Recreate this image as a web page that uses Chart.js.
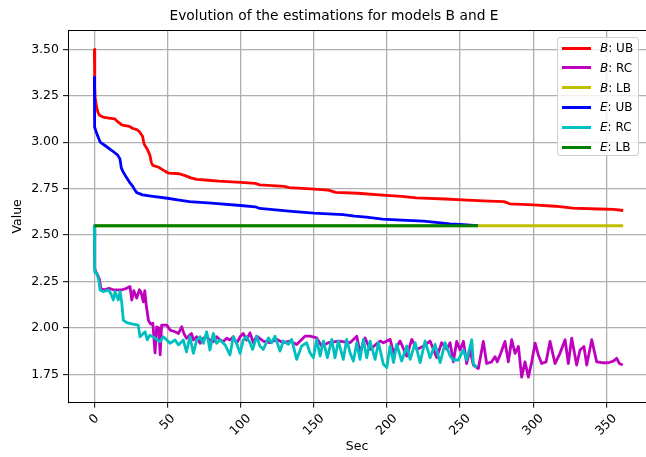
<!DOCTYPE html>
<html>
<head>
<meta charset="utf-8">
<script src="https://cdn.jsdelivr.net/npm/chart.js@4/dist/chart.umd.min.js"></script>
<style>
  body { margin: 0; background: #fff; }
  #wrap { position: relative; width: 646px; height: 457px; }
  #legend {
    position: absolute; left: 557px; top: 37px; width: 82px; height: 119px;
    box-sizing: border-box; border: 1px solid #d0d0d0; border-radius: 3px;
    background: rgba(255, 255, 255, 0.8);
    font-family: "DejaVu Sans", sans-serif; font-size: 12px; color: #000;
  }
  .row { position: absolute; left: 0; height: 14px; line-height: 14px; white-space: nowrap; }
  .swatch { position: absolute; left: 4px; top: 5.5px; width: 29px; height: 3px; }
  .txt { position: absolute; left: 42px; top: 0; }
</style>
</head>
<body>
<div id="wrap">
  <canvas id="chart" width="646" height="457"></canvas>
  <div id="legend"></div>
</div>
<script>
// series names
const models = ['B', 'B', 'B', 'E', 'E', 'E'];
const kinds = ['UB', 'RC', 'LB', 'UB', 'RC', 'LB'];
const colors = ['#ff0000', '#bf00bf', '#bfbf00', '#0000ff', '#00bfbf', '#008000'];
const titleText = 'Evolution of the estimations for models B and E';

const xTicks = [0, 50, 100, 150, 200, 250, 300, 350];
const yTicks = [1.75, 2.00, 2.25, 2.50, 2.75, 3.00, 3.25, 3.50];

// B: UB
const bUbSec = [0, 0.3, 0.6, 1.5, 2.5, 3.5, 6, 10, 14, 16, 18.5, 20, 24, 26, 29, 31, 33, 34, 36, 38, 39, 40, 44, 46, 49, 51, 58, 62, 66, 70, 78, 85, 100, 110, 113, 130, 133, 148, 160, 165, 180, 197, 210, 220, 240, 255, 270, 280, 284, 300, 315, 327, 345, 355, 361.5];
const bUbVal = [3.50, 3.30, 3.24, 3.19, 3.16, 3.145, 3.135, 3.13, 3.125, 3.11, 3.095, 3.09, 3.085, 3.075, 3.068, 3.055, 3.03, 2.99, 2.965, 2.93, 2.89, 2.875, 2.865, 2.855, 2.84, 2.833, 2.83, 2.82, 2.808, 2.80, 2.795, 2.79, 2.783, 2.778, 2.77, 2.762, 2.755, 2.748, 2.742, 2.73, 2.725, 2.715, 2.708, 2.70, 2.694, 2.688, 2.683, 2.68, 2.668, 2.662, 2.655, 2.645, 2.64, 2.638, 2.632];

// B: RC
const bRcSec = [0, 0.3, 1, 2, 3.5, 4.5, 7, 10, 13, 16, 19, 22, 24.4, 25.6, 27, 29, 30.8, 32, 33.5, 34.5, 35.5, 37, 38.5, 40, 41.5, 42.6, 44, 45, 46, 49.5, 51.8, 55.2, 57.5, 59.7, 61.2, 63, 66.4, 67.7, 70, 72.3, 74.5, 76.8, 79, 81.3, 83.6, 86, 88, 90.5, 92.7, 95, 97.3, 99.6, 101.8, 104, 106.4, 108.7, 111, 115.5, 120, 124.6, 129.2, 133.8, 138.3, 144, 147.4, 152, 155.4, 160, 167, 174.8, 179.4, 181.6, 185, 188.5, 195.3, 197.6, 202.2, 204.5, 209, 213.6, 217, 220.5, 225, 229.5, 234, 237.4, 241, 243.2, 245.4, 247.7, 250, 252.3, 254.5, 256.8, 259.1, 262.5, 265.9, 268.2, 271.6, 273.9, 275.5, 277.8, 280.7, 283, 285.3, 287.6, 289.9, 292.1, 294.4, 296.7, 299, 301.3, 303.5, 305.8, 308.8, 311.5, 314.9, 318.3, 321.8, 324, 326.3, 329.7, 332, 334.7, 336.6, 340, 343.4, 348, 351.4, 354.8, 357.1, 358.9, 361.2];
const bRcVal = [2.55, 2.32, 2.30, 2.29, 2.26, 2.21, 2.205, 2.213, 2.205, 2.205, 2.205, 2.213, 2.222, 2.15, 2.20, 2.16, 2.205, 2.19, 2.14, 2.20, 2.12, 2.04, 2.02, 2.025, 1.865, 2.005, 2.00, 1.855, 2.015, 2.015, 1.988, 1.979, 1.970, 2.006, 1.970, 1.944, 1.970, 1.935, 1.952, 1.917, 1.944, 1.952, 1.935, 1.925, 1.952, 1.935, 1.925, 1.944, 1.935, 1.952, 1.917, 1.952, 1.970, 1.935, 1.973, 1.92, 1.955, 1.929, 1.92, 1.938, 1.92, 1.929, 1.91, 1.955, 1.955, 1.946, 1.902, 1.92, 1.929, 1.92, 1.955, 1.866, 1.946, 1.884, 1.929, 1.92, 1.938, 1.866, 1.929, 1.848, 1.938, 1.884, 1.902, 1.929, 1.84, 1.92, 1.884, 1.92, 1.817, 1.927, 1.881, 1.927, 1.808, 1.881, 1.80, 1.781, 1.927, 1.808, 1.817, 1.845, 1.817, 1.863, 1.927, 1.817, 1.936, 1.863, 1.90, 1.735, 1.817, 1.735, 1.817, 1.918, 1.854, 1.808, 1.817, 1.927, 1.808, 1.863, 1.936, 1.808, 1.945, 1.80, 1.881, 1.90, 1.80, 1.936, 1.817, 1.812, 1.812, 1.821, 1.836, 1.808, 1.80];

// B: LB
const bLbSec = [0, 361.5];
const bLbVal = [2.55, 2.55];

// E: UB
const eUbSec = [0, 0.1, 0.3, 1.5, 3, 4, 8, 12, 16, 17.5, 18.5, 20, 22, 24, 26, 27.5, 29, 33, 40, 50, 58, 65, 80, 100, 110, 113, 135, 150, 170, 178, 186, 197, 210, 225, 235, 243, 250, 257, 262];
const eUbVal = [3.35, 3.20, 3.08, 3.05, 3.02, 3.00, 2.978, 2.955, 2.93, 2.91, 2.86, 2.835, 2.81, 2.785, 2.765, 2.745, 2.728, 2.716, 2.708, 2.698, 2.688, 2.68, 2.672, 2.659, 2.652, 2.643, 2.627, 2.618, 2.61, 2.602, 2.596, 2.586, 2.58, 2.575, 2.567, 2.56, 2.557, 2.553, 2.551];

// E: RC
const eRcSec = [0, 0.3, 1.6, 3, 3.9, 6.2, 9.6, 11.2, 13, 14.2, 16.4, 17.6, 18.7, 19.8, 22.1, 25.6, 30, 31.2, 34.7, 36.2, 38, 41.5, 44.9, 47, 49.5, 51.8, 55.2, 57.5, 60.8, 63, 65.3, 67.7, 70, 72.3, 74.5, 76.8, 79, 81.3, 83.6, 86, 89.4, 92.7, 95, 97.3, 99.6, 101.8, 104, 106.4, 108.2, 111, 113.2, 115.5, 119, 121.2, 123.5, 126.9, 129.2, 132.6, 134.9, 138.3, 141.7, 145.1, 147.4, 149.7, 152, 154.3, 156.6, 159.3, 162.3, 164.5, 166.8, 170.2, 172.5, 174.8, 177.1, 179.4, 181.6, 183.9, 186.2, 188.5, 191.9, 194.2, 197.6, 199.9, 202.2, 204.5, 206.7, 210.1, 213.6, 215.9, 219.3, 222.7, 226.1, 229.5, 232.9, 236.4, 239.8, 243.2, 245.4, 248.8, 252.3, 254.5, 258, 259.1, 260.5, 261.4];
const eRcVal = [2.55, 2.30, 2.294, 2.26, 2.204, 2.195, 2.204, 2.186, 2.15, 2.195, 2.15, 2.195, 2.14, 2.042, 2.028, 2.021, 2.015, 1.952, 1.979, 1.935, 1.961, 1.944, 1.925, 1.952, 1.935, 1.917, 1.935, 1.908, 1.935, 1.87, 1.952, 1.863, 1.935, 1.952, 1.917, 1.979, 1.881, 1.97, 1.917, 1.935, 1.908, 1.854, 1.952, 1.917, 1.863, 1.935, 1.952, 1.92, 1.884, 1.955, 1.902, 1.884, 1.946, 1.92, 1.955, 1.875, 1.929, 1.911, 1.938, 1.83, 1.902, 1.92, 1.866, 1.839, 1.938, 1.848, 1.929, 1.839, 1.938, 1.839, 1.929, 1.83, 1.938, 1.866, 1.821, 1.92, 1.83, 1.938, 1.839, 1.929, 1.83, 1.92, 1.804, 1.786, 1.902, 1.813, 1.911, 1.821, 1.902, 1.83, 1.92, 1.813, 1.929, 1.839, 1.911, 1.813, 1.92, 1.848, 1.827, 1.827, 1.881, 1.827, 1.936, 1.808, 1.79, 1.80];

// E: LB
const eLbSec = [0, 262.3];
const eLbVal = [2.55, 2.55];

const secs = [bUbSec, bRcSec, bLbSec, eUbSec, eRcSec, eLbSec];
const vals = [bUbVal, bRcVal, bLbVal, eUbVal, eRcVal, eLbVal];

function toPoints(xs, ys) {
    return xs.map((x, i) => ({ x: x, y: ys[i] }));
}

const datasets = models.map((m, i) => ({
    label: m + ': ' + kinds[i],
    data: toPoints(secs[i], vals[i]),
    borderColor: colors[i],
    backgroundColor: colors[i],
    borderWidth: 2.8,
    pointRadius: 0,
    fill: false,
    tension: 0,
    borderJoinStyle: 'round',
    order: models.length - i   // later series on top, like matplotlib
}));

// top spine, title and the rotated x tick labels (centred under ticks like matplotlib)
const extras = {
    id: 'extras',
    afterDraw(chart) {
        const { ctx, chartArea } = chart;
        const xs = chart.scales.x;
        ctx.save();
        ctx.strokeStyle = '#000';
        ctx.lineWidth = 1;
        ctx.beginPath();
        ctx.moveTo(chartArea.left, Math.round(chartArea.top) + 0.5);
        ctx.lineTo(chartArea.right, Math.round(chartArea.top) + 0.5);
        ctx.stroke();

        ctx.fillStyle = '#000';
        ctx.font = '13.8px "DejaVu Sans", sans-serif';
        ctx.textAlign = 'center';
        ctx.textBaseline = 'middle';
        ctx.fillText(titleText, 334, 16);

        ctx.font = '12.5px "DejaVu Sans", sans-serif';
        const top0 = chartArea.bottom + 9.5;
        xTicks.forEach(v => {
            const label = String(v);
            const w = ctx.measureText(label).width;
            const side = (w + 12.5) * Math.SQRT1_2;
            ctx.save();
            ctx.translate(xs.getPixelForValue(v), top0 + side / 2);
            ctx.rotate(-Math.PI / 4);
            ctx.fillText(label, 0, 0);
            ctx.restore();
        });
        ctx.restore();
    }
};

Chart.defaults.font.family = '"DejaVu Sans", sans-serif';
Chart.defaults.color = '#000';

const chart = new Chart(document.getElementById('chart').getContext('2d'), {
    type: 'line',
    data: { datasets: datasets },
    plugins: [extras],
    options: {
        responsive: false,
        animation: false,
        layout: { padding: { top: 30, left: 0, right: 0, bottom: 0 } },
        plugins: {
            legend: { display: false },
            tooltip: { enabled: false },
            title: { display: false }
        },
        scales: {
            x: {
                type: 'linear',
                min: -18,
                max: 377.1,
                afterBuildTicks: s => { s.ticks = xTicks.map(v => ({ value: v })); },
                afterFit: s => { s.height = 54.3; s.paddingLeft = 0; s.paddingRight = 0; },
                ticks: { display: false },
                grid: { color: '#b0b0b0', lineWidth: 1.3, tickColor: '#000', tickLength: 5, tickWidth: 1 },
                border: { color: '#000', width: 1 },
                title: { display: true, text: 'Sec', font: { size: 12.5 }, padding: { top: 0, bottom: 3 } }
            },
            y: {
                type: 'linear',
                min: 1.597,
                max: 3.604,
                afterBuildTicks: s => { s.ticks = yTicks.map(v => ({ value: v })); },
                afterFit: s => { s.width = 68; },
                ticks: {
                    padding: 4,
                    font: { size: 12.5 },
                    callback: v => v.toFixed(2)
                },
                grid: { color: '#b0b0b0', lineWidth: 1.3, tickColor: '#000', tickLength: 5, tickWidth: 1 },
                border: { color: '#000', width: 1 },
                title: { display: true, text: 'Value', font: { size: 12.5 }, padding: { top: 10, bottom: 4 } }
            }
        }
    }
});

// legend with the italic model letter
const legendEl = document.getElementById('legend');
chart.data.datasets.forEach((ds, i) => {
    const row = document.createElement('div');
    row.className = 'row';
    row.style.top = (3 + i * 19.8) + 'px';
    row.style.width = '100%';
    const sw = document.createElement('span');
    sw.className = 'swatch';
    sw.style.background = ds.borderColor;
    const tx = document.createElement('span');
    tx.className = 'txt';
    tx.innerHTML = '<i>' + models[i] + '</i>: ' + kinds[i];
    row.appendChild(sw);
    row.appendChild(tx);
    legendEl.appendChild(row);
});
</script>
</body>
</html>
